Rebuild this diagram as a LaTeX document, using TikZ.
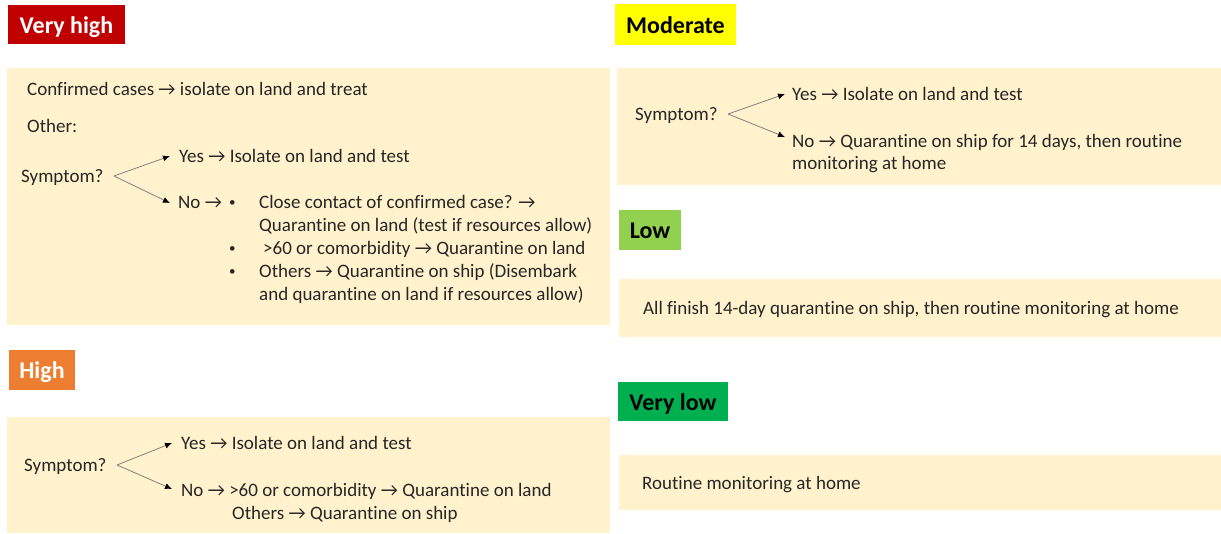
\documentclass[tikz,border=0pt]{standalone}
\usepackage{fontspec}
\setmainfont{Carlito}[Ligatures={NoCommon}]
\usetikzlibrary{arrows.meta}
\definecolor{panel}{HTML}{FFF2CC}
\definecolor{cvh}{HTML}{C00000}
\definecolor{chi}{HTML}{ED7D31}
\definecolor{cmo}{HTML}{FFFF00}
\definecolor{clo}{HTML}{92D050}
\definecolor{cvl}{HTML}{00B050}
\definecolor{ink}{HTML}{262626}
\newcommand{\ra}{→}
\newcommand{\smallbul}{\raisebox{1.5pt}{\fontsize{13}{13}\selectfont •}}
\begin{document}
\begin{tikzpicture}[x=1pt,y=-1pt,
  txt/.style={anchor=base west, inner sep=0pt, text=ink, font=\fontsize{19}{23}\selectfont},
  lab/.style={inner sep=0pt, text height=22pt, text depth=5pt, font=\fontsize{24}{28}\selectfont\bfseries},
  pan/.style={fill=panel, draw=none},
  arr/.style={draw=black!50, line width=0.8pt, -{Latex[length=7pt,width=6pt,color=black]}}]
\useasboundingbox (0,0) rectangle (1221,533);
\fill[white] (0,0) rectangle (1221,533);
% panels
\fill[pan] (7,68) rectangle (610,325);
\fill[pan] (617,68) rectangle (1221,185);
\fill[pan] (619,279) rectangle (1221,337);
\fill[pan] (7,417) rectangle (610,533);
\fill[pan] (619,455) rectangle (1221,510);
% labels
\node[lab, fill=cvh, text=white, minimum width=117pt, minimum height=39pt] (lvh) at (66.5,24.5) {Very high};
\node[lab, fill=cmo, text=black, minimum width=121pt, minimum height=41pt] (lmo) at (675.5,24.5) {Moderate};
\node[lab, fill=clo, text=black, minimum width=62pt, minimum height=40pt] (llo) at (650,230) {Low};
\node[lab, fill=chi, text=white, minimum width=66pt, minimum height=40pt] (lhi) at (42,370) {High};
\node[lab, fill=cvl, text=black, minimum width=110pt, minimum height=39pt] (lvl) at (673,401.5) {Very low};
% very high
\node[txt] (vh1) at (27,95) {Confirmed cases \ra{} isolate on land and treat};
\node[txt] (vh2) at (27,132) {Other:};
\node[txt] (vhs) at (21,182) {Symptom?};
\node[txt] (vhy) at (179,162) {Yes \ra{} Isolate on land and test};
\node[txt] (vhn) at (178,208) {No \ra{}};
\node[txt] (vhb1) at (229,208) {\smallbul};
\node[txt] (vha1) at (259,208) {Close contact of confirmed case? \ra};
\node[txt] (vha2) at (259,231) {Quarantine on land (test if resources allow)};
\node[txt] (vhb2) at (229,254) {\smallbul};
\node[txt] (vhc) at (263,254) {>60 or comorbidity \ra{} Quarantine on land};
\node[txt] (vhb3) at (229,277) {\smallbul};
\node[txt] (vhd1) at (259,277) {Others \ra{} Quarantine on ship (Disembark};
\node[txt] (vhd2) at (259,300) {and quarantine on land if resources allow)};
\coordinate (vhf) at (114,176);
\coordinate (vhyt) at (170,156);
\coordinate (vhnt) at (170,203);
\draw[arr] (vhf) -- (vhyt);
\draw[arr] (vhf) -- (vhnt);
% moderate
\node[txt] (mos) at (635,120) {Symptom?};
\node[txt] (moy) at (792,100) {Yes \ra{} Isolate on land and test};
\node[txt] (mon1) at (792,147) {No \ra{} Quarantine on ship for 14 days, then routine};
\node[txt] (mon2) at (792,169) {monitoring at home};
\coordinate (mof) at (728,114);
\coordinate (moyt) at (785,94);
\coordinate (mont) at (785,137);
\draw[arr] (mof) -- (moyt);
\draw[arr] (mof) -- (mont);
% low
\node[txt] (lo1) at (643,314) {All finish 14-day quarantine on ship, then routine monitoring at home};
% high
\node[txt] (his) at (24,471) {Symptom?};
\node[txt] (hiy) at (181,449) {Yes \ra{} Isolate on land and test};
\node[txt] (hin1) at (181,496) {No \ra{} >60 or comorbidity \ra{} Quarantine on land};
\node[txt] (hin2) at (232,519) {Others \ra{} Quarantine on ship};
\coordinate (hif) at (117,465);
\coordinate (hiyt) at (172,443);
\coordinate (hint) at (172,489);
\draw[arr] (hif) -- (hiyt);
\draw[arr] (hif) -- (hint);
% very low
\node[txt] (vl1) at (642,489) {Routine monitoring at home};
\end{tikzpicture}
\end{document}
